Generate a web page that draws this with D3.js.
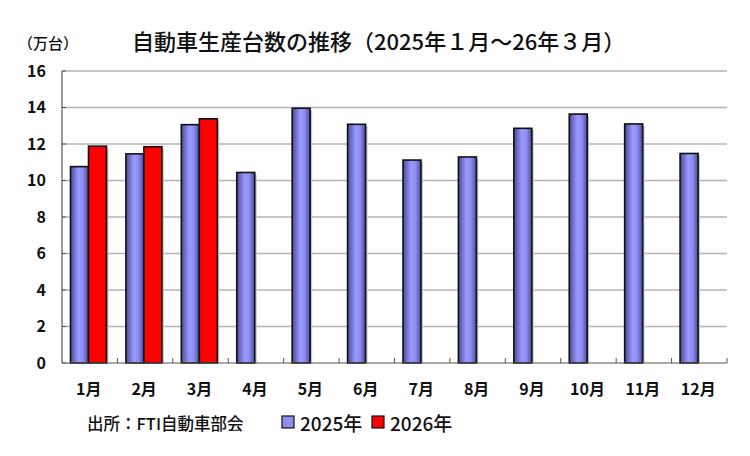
<!DOCTYPE html>
<html>
<head>
<meta charset="utf-8">
<script src="https://cdn.jsdelivr.net/npm/d3@7"></script>
<style>
body { margin: 0; background: #fff; }
svg { font-family: "Noto Sans CJK JP", "Noto Sans", sans-serif; }
</style>
</head>
<body>
<svg id="canvas"></svg>
<script>
const months = ['1月', '2月', '3月', '4月', '5月', '6月', '7月', '8月', '9月', '10月', '11月', '12月'];
const sales2025 = [10.76, 11.46, 13.06, 10.44, 13.96, 13.08, 11.12, 11.29, 12.86, 13.64, 13.1, 11.48];
const sales2026 = [11.88, 11.85, 13.38];
const yTicks = [0, 2, 4, 6, 8, 10, 12, 14, 16];
const seriesNames = ['2025年', '2026年'];

const width = 750;
const height = 456;
const plotLeft = 62, plotRight = 727, plotTop = 71, plotBottom = 363;

const canvas = d3.select('#canvas').attr('width', width).attr('height', height);

const defs = canvas.append('defs');
const grad = defs.append('linearGradient').attr('id', 'blueGrad').attr('x1', 0).attr('x2', 1).attr('y1', 0).attr('y2', 0);
grad.append('stop').attr('offset', '0%').attr('stop-color', '#4a4a99');
grad.append('stop').attr('offset', '45%').attr('stop-color', '#9a9aff');
grad.append('stop').attr('offset', '70%').attr('stop-color', '#8c8cf2');
grad.append('stop').attr('offset', '100%').attr('stop-color', '#4a4a99');

const x = d3.scaleBand().domain(months).range([plotLeft, plotRight]);
const y = d3.scaleLinear().domain([0, 16]).range([plotBottom, plotTop]);
const barW = 18;

// grid
canvas.append('g')
	.selectAll('line')
	.data(yTicks.filter((t) => t > 0))
	.enter()
	.append('line')
	.attr('x1', plotLeft)
	.attr('x2', plotRight)
	.attr('y1', (t) => y(t))
	.attr('y2', (t) => y(t))
	.attr('stroke', '#b4b4b4')
	.attr('stroke-width', 1.5);

// y labels
canvas.append('g')
	.selectAll('text')
	.data(yTicks)
	.enter()
	.append('text')
	.attr('x', 46)
	.attr('y', (t) => y(t) + 5.5)
	.attr('text-anchor', 'end')
	.attr('font-size', '16px')
	.attr('font-weight', 'bold')
	.attr('fill', '#111')
	.text((t) => t);

// y tick marks
canvas.append('g')
	.selectAll('line')
	.data(yTicks)
	.enter()
	.append('line')
	.attr('x1', plotLeft)
	.attr('x2', plotLeft + 4)
	.attr('y1', (t) => y(t))
	.attr('y2', (t) => y(t))
	.attr('stroke', '#555');

// bars
const drawBars = (data, cls, fill, offset) => {
	canvas.append('g')
		.selectAll('rect.shadow')
		.data(data)
		.enter()
		.append('rect')
		.attr('x', (d, i) => x(months[i]) + offset + 2)
		.attr('y', (d) => y(d) + 2)
		.attr('width', barW)
		.attr('height', (d) => y(0) - y(d) - 2)
		.attr('fill', '#c8c8c8');
	canvas.append('g')
		.selectAll('rect.' + cls)
		.data(data)
		.enter()
		.append('rect')
		.attr('class', cls)
		.attr('x', (d, i) => x(months[i]) + offset)
		.attr('y', (d) => y(d))
		.attr('width', barW)
		.attr('height', (d) => y(0) - y(d))
		.attr('fill', fill)
		.attr('stroke', '#111')
		.attr('stroke-width', 1.6);
};
drawBars(sales2025, 'b25', 'url(#blueGrad)', 8.5);
drawBars(sales2026, 'b26', '#ff0000', 8.5 + barW);

// axes lines
canvas.append('line').attr('x1', plotLeft).attr('x2', plotLeft).attr('y1', plotTop).attr('y2', plotBottom).attr('stroke', '#555').attr('stroke-width', 1.2);
canvas.append('line').attr('x1', plotLeft).attr('x2', plotRight).attr('y1', plotBottom).attr('y2', plotBottom).attr('stroke', '#555').attr('stroke-width', 1.2);

// x ticks
canvas.append('g')
	.selectAll('line')
	.data(months)
	.enter()
	.append('line')
	.attr('x1', (m) => x(m) + x.bandwidth())
	.attr('x2', (m) => x(m) + x.bandwidth())
	.attr('y1', plotBottom)
	.attr('y2', plotBottom - 5)
	.attr('stroke', '#555');

// x labels
canvas.append('g')
	.selectAll('text')
	.data(months)
	.enter()
	.append('text')
	.attr('x', (m) => x(m) + x.bandwidth() / 2 - 1)
	.attr('y', 395)
	.attr('text-anchor', 'middle')
	.attr('font-size', '16px')
	.attr('font-weight', 'bold')
	.attr('fill', '#111')
	.text((m) => m);

// title
canvas.append('text')
	.attr('x', 132)
	.attr('y', 50)
	.attr('font-size', '22px')
	.attr('font-weight', '500')
	.attr('fill', '#111')
	.text('自動車生産台数の推移（2025年１月～26年３月）');

canvas.append('text')
	.attr('x', 18)
	.attr('y', 49)
	.attr('font-size', '15px')
	.attr('font-weight', '500')
	.attr('fill', '#111')
	.text('（万台）');

// source
canvas.append('text')
	.attr('x', 87)
	.attr('y', 430)
	.attr('font-size', '16.5px')
	.attr('font-weight', '500')
	.attr('fill', '#111')
	.text('出所：FTI自動車部会');

// legend
const legendX = [282, 372];
const legendFill = ['#8c8cf2', '#ff0000'];
seriesNames.forEach((name, i) => {
	canvas.append('rect')
		.attr('x', legendX[i])
		.attr('y', 416)
		.attr('width', 12)
		.attr('height', 12)
		.attr('fill', legendFill[i])
		.attr('stroke', '#111')
		.attr('stroke-width', 1.2);
	canvas.append('text')
		.attr('x', legendX[i] + 18)
		.attr('y', 431)
		.attr('font-size', '19px')
		.attr('font-weight', '500')
		.attr('fill', '#111')
		.text(name);
});
</script>
</body>
</html>
